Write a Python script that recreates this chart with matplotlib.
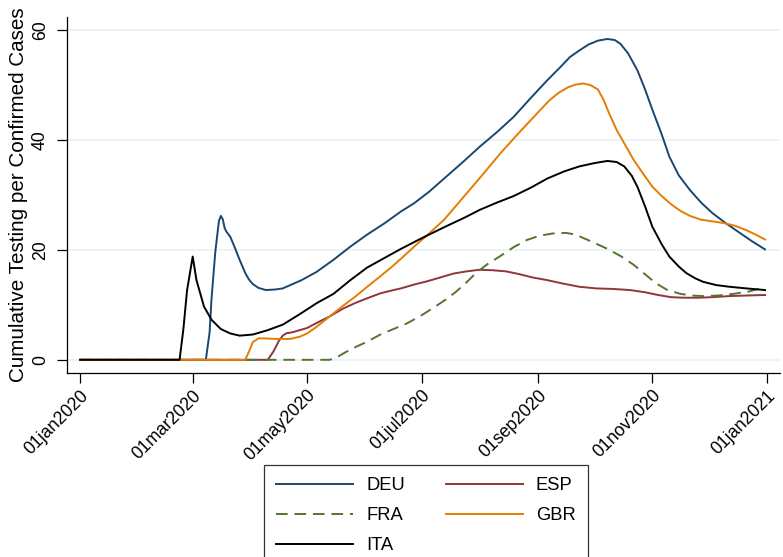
import numpy as np
import pandas as pd
import matplotlib
matplotlib.use("Agg")
import matplotlib.pyplot as plt

plt.rcParams['font.family'] = ['Liberation Sans', 'DejaVu Sans']

START = np.datetime64("2020-01-01")

# days since 01jan2020 and cumulative tests per confirmed case, by country
deu_day = [0, 67, 69, 70, 72, 73, 74, 75, 76, 77, 78, 80, 82, 85, 88, 90, 92, 95,
           99, 104, 108, 118, 126, 135, 144, 153, 162, 171, 178, 186, 195, 204,
           213, 222, 231, 240, 249, 256, 261, 266, 271, 276, 281, 285, 288, 292,
           297, 301, 305, 310, 314, 319, 325, 331, 337, 344, 352, 358, 365]
deu_val = [0, 0, 5, 11, 19.5, 22.5, 25.3, 26.2, 25.6, 24, 23.3, 22.4, 20.8, 18.2,
           15.8, 14.6, 13.8, 13.1, 12.7, 12.8, 13.0, 14.5, 16, 18.2, 20.6, 22.8,
           24.8, 27, 28.5, 30.6, 33.3, 36, 38.8, 41.4, 44.2, 47.6, 50.9, 53.3,
           55.1, 56.3, 57.4, 58.1, 58.4, 58.2, 57.5, 55.8, 52.7, 49.3, 45.5, 41,
           37, 33.6, 30.9, 28.6, 26.7, 24.9, 23, 21.6, 20.1]

esp_day = [0, 100, 103, 106, 108, 110, 113, 116, 121, 126, 133, 140, 147, 153,
           160, 167, 171, 178, 185, 192, 199, 206, 213, 220, 227, 234, 241, 249,
           257, 266, 275, 284, 293, 301, 308, 315, 322, 329, 337, 346, 355, 365]
esp_val = [0, 0, 1.5, 3.5, 4.4, 4.85, 5.0, 5.3, 5.8, 6.7, 7.9, 9.3, 10.4, 11.2,
           12.1, 12.7, 13.0, 13.7, 14.3, 15.0, 15.7, 16.1, 16.4, 16.3, 16.1, 15.6,
           15.0, 14.5, 13.9, 13.3, 13.0, 12.9, 12.7, 12.3, 11.8, 11.4, 11.3, 11.3,
           11.4, 11.6, 11.7, 11.8]

fra_day = [0, 133, 137, 141, 146, 153, 160, 167, 174, 181, 188, 195, 200, 205,
           211, 217, 224, 231, 238, 245, 252, 259, 264, 268, 274, 281, 288, 295,
           301, 307, 313, 320, 326, 332, 340, 348, 356, 365]
fra_val = [0, 0, 0.5, 1.3, 2.2, 3.3, 4.6, 5.6, 6.6, 7.9, 9.4, 11.0, 12.3, 13.8,
           15.8, 17.4, 18.9, 20.5, 21.8, 22.6, 23.0, 23.1, 22.8, 22.2, 21.3, 20.2,
           18.9, 17.3, 15.6, 13.9, 12.7, 12.0, 11.7, 11.6, 11.7, 12.0, 12.4, 13.2]

gbr_day = [0, 88, 90, 92, 95, 98, 105, 112, 117, 121, 126, 133, 140, 147, 153,
           160, 166, 171, 178, 185, 194, 206, 215, 224, 233, 242, 250, 255, 260,
           264, 268, 272, 276, 279, 282, 286, 290, 295, 300, 305, 310, 315, 320,
           325, 331, 337, 343, 349, 355, 360, 365]
gbr_val = [0, 0, 1.5, 3.2, 3.9, 3.9, 3.8, 3.8, 4.2, 4.8, 6.0, 7.9, 9.8, 11.6, 13.3,
           15.2, 16.9, 18.4, 20.6, 22.7, 25.5, 30.3, 33.9, 37.6, 41.0, 44.3, 47.2,
           48.6, 49.6, 50.1, 50.3, 50.0, 49.2, 47.3, 44.8, 41.8, 39.4, 36.4, 33.9,
           31.5, 29.8, 28.3, 27.1, 26.2, 25.5, 25.2, 24.9, 24.4, 23.6, 22.8, 21.9]

ita_day = [0, 53, 55, 57, 60, 62, 66, 70, 75, 80, 85, 92, 100, 108, 117, 126, 135,
           144, 153, 162, 171, 183, 195, 205, 213, 222, 231, 240, 249, 258, 266,
           274, 281, 286, 290, 294, 297, 301, 305, 310, 314, 319, 323, 328, 332,
           339, 346, 355, 365]
ita_val = [0, 0, 5.5, 12.7, 18.8, 14.5, 9.7, 7.3, 5.6, 4.8, 4.4, 4.6, 5.4, 6.4,
           8.3, 10.3, 12.0, 14.5, 16.8, 18.5, 20.2, 22.3, 24.3, 25.9, 27.3, 28.6,
           29.8, 31.3, 33.0, 34.3, 35.2, 35.8, 36.2, 36.0, 35.2, 33.5, 31.5, 28.0,
           24.2, 21.0, 18.8, 17.0, 15.8, 14.8, 14.2, 13.6, 13.3, 13.0, 12.7]

tick_dates = ["2020-01-01", "2020-03-01", "2020-05-01", "2020-07-01",
              "2020-09-01", "2020-11-01", "2021-01-01"]

series = [
  ("DEU", deu_day, deu_val, "#1a476f", "-"),
  ("ESP", esp_day, esp_val, "#90353b", "-"),
  ("FRA", fra_day, fra_val, "#55752f", "--"),
  ("GBR", gbr_day, gbr_val, "#e37e00", "-"),
  ("ITA", ita_day, ita_val, "black", "-"),
]


def toDates(days):
  return START + np.array(days, dtype="timedelta64[D]")


fig = plt.figure(figsize=(7.83, 5.57), dpi=100)
ax = fig.add_axes([67 / 783, 1 - 373 / 557, (780 - 67) / 783, (373 - 17) / 557])

lines = {}
for name, days, vals, clr, ls in series:
  ln, = ax.plot(toDates(days), vals, color=clr, lw=1.4, ls=ls, label=name)
  if ls == "--":
    ln.set_dashes((6, 3.5))
  lines[name] = ln

ax.set_xlim(START - np.timedelta64(7, "D"), START + np.timedelta64(373, "D"))
ax.set_ylim(-2.4, 62.4)

ticks = np.array(tick_dates, dtype="datetime64[D]")
ax.set_xticks(ticks)
ax.set_xticklabels([pd.Timestamp(t).strftime("%d%b%Y").lower() for t in ticks],
                   rotation=45, ha="right", rotation_mode="anchor", fontsize=12.7)
ax.set_yticks([0, 20, 40, 60])
ax.set_yticklabels(["0", "20", "40", "60"], rotation=90, va="center",
                   fontsize=12.7)
ax.tick_params(axis="both", direction="out", length=7, width=0.9)
ax.tick_params(axis="x", pad=3)
ax.tick_params(axis="y", pad=6)

ax.grid(axis="y", color="#eaf2f3", lw=1.3)
ax.set_axisbelow(True)
for side in ("top", "right"):
  ax.spines[side].set_visible(False)
for side in ("left", "bottom"):
  ax.spines[side].set_linewidth(0.9)

ax.set_ylabel("Cumulative Testing per Confirmed Cases", fontsize=14.9,
              labelpad=3)

order = ["DEU", "FRA", "ITA", "ESP", "GBR"]
leg = fig.legend([lines[n] for n in order], order, ncol=2, loc="upper left",
                 bbox_to_anchor=(264 / 783, 1 - 465 / 557), fontsize=13.2,
                 frameon=True, fancybox=False, edgecolor="black",
                 handlelength=4.2, handletextpad=0.72, columnspacing=2.2,
                 labelspacing=0.7, borderpad=0.68, borderaxespad=0)
leg.get_frame().set_linewidth(0.9)

fig.savefig("out.png", dpi=100)
